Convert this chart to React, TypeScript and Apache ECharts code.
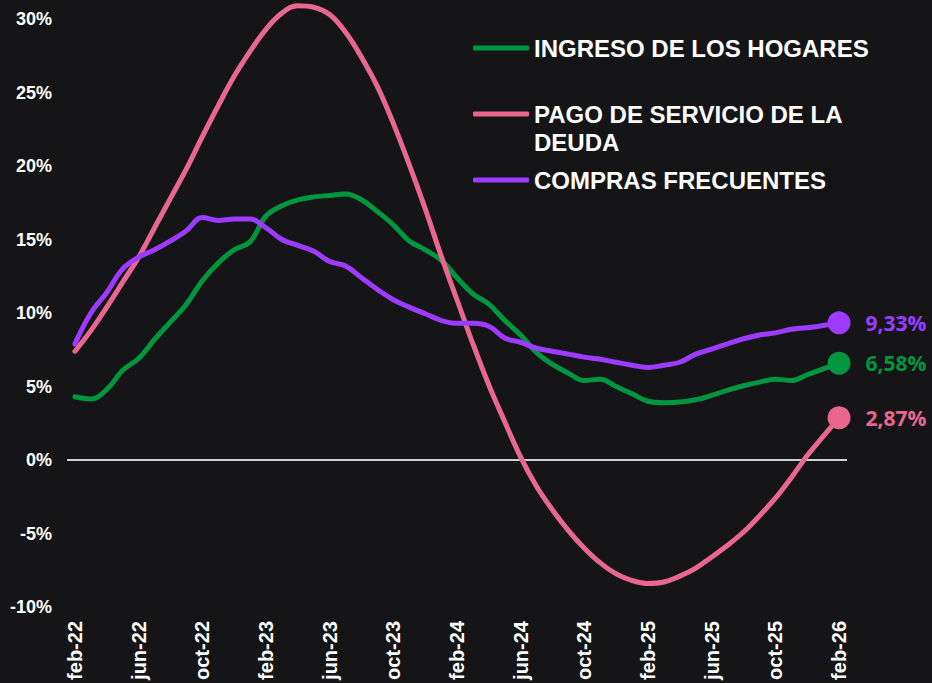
import React, { useEffect, useRef } from "react";
import * as echarts from "echarts";

const MONTHS = ["ene", "feb", "mar", "abr", "may", "jun", "jul", "ago", "sep", "oct", "nov", "dic"];
const categories: string[] = [];
for (let y = 22; y <= 26; y++) {
  for (let m = 0; m < 12; m++) {
    if (y === 22 && m < 1) continue;
    if (y === 26 && m > 1) continue;
    categories.push(`${MONTHS[m]}-${y}`);
  }
}

const seriesNames = ["INGRESO DE LOS HOGARES", "PAGO DE SERVICIO DE LA DEUDA", "COMPRAS FRECUENTES"];
const seriesColors = ["#00963f", "#e9668f", "#9d3bff"];

const ingresoHogares = [
  4.3, 4.15, 4.8, 6.1, 6.9, 8.2, 9.4, 10.6, 12.2, 13.4, 14.3, 14.85, 16.6, 17.3, 17.7, 17.9,
  18.0, 18.1, 17.7, 16.9, 16.0, 14.9, 14.3, 13.6, 12.4, 11.3, 10.6, 9.5, 8.5, 7.3, 6.5, 5.9,
  5.4, 5.5, 5.0, 4.5, 4.0, 3.9, 3.95, 4.1, 4.4, 4.75, 5.05, 5.3, 5.5, 5.4, 5.8, 6.2, 6.58,
];
const pagoDeuda = [
  7.4, 8.8, 10.4, 12.1, 13.8, 15.8, 17.8, 19.8, 22.0, 24.1, 26.1, 27.8, 29.3, 30.4, 30.9, 30.8,
  30.3, 29.1, 27.4, 25.4, 22.9, 20.1, 17.1, 13.9, 10.9, 7.9, 5.1, 2.6, 0.2, -1.8, -3.4, -4.8,
  -6.0, -7.0, -7.75, -8.2, -8.4, -8.3, -7.9, -7.35, -6.6, -5.8, -4.9, -3.8, -2.6, -1.2, 0.3, 1.6, 2.87,
];
const comprasFrecuentes = [
  7.9, 10.0, 11.4, 13.0, 13.8, 14.3, 14.9, 15.6, 16.5, 16.3, 16.4, 16.4, 15.8, 15.0, 14.6, 14.2,
  13.5, 13.2, 12.4, 11.6, 10.9, 10.4, 9.95, 9.5, 9.3, 9.3, 9.1, 8.3, 8.0, 7.6, 7.4, 7.2,
  7.0, 6.85, 6.65, 6.45, 6.3, 6.45, 6.65, 7.2, 7.55, 7.9, 8.25, 8.5, 8.65, 8.9, 9.0, 9.15, 9.33,
];
const seriesData = [ingresoHogares, pagoDeuda, comprasFrecuentes];

const FONT = "'Liberation Sans', Arial, sans-serif";

export default function App() {
  const ref = useRef<HTMLDivElement>(null);
  useEffect(() => {
    document.body.style.margin = "0";
    document.body.style.background = "#151517";
    if (!ref.current) return;
    const chart = echarts.init(ref.current, undefined, { renderer: "svg" });
    const last = categories.length - 1;
    const series: any[] = seriesNames.map((name, k) => ({
      name,
      type: "line",
      data: seriesData[k],
      smooth: 0.4,
      clip: false,
      showSymbol: false,
      symbol: "none",
      z: 3 + k,
      lineStyle: { width: 5, color: seriesColors[k], cap: "round", join: "round" },
      itemStyle: { color: seriesColors[k] },
      markPoint: {
        symbol: "circle",
        symbolSize: 23,
        silent: true,
        itemStyle: { color: seriesColors[k] },
        label: {
          show: true,
          position: "right",
          distance: 15,
          color: seriesColors[k],
          fontFamily: "'Open Sans', 'Noto Sans', sans-serif",
          fontWeight: "bold",
          fontSize: 21,
          formatter: () => seriesData[k][last].toFixed(2).replace(".", ",") + "%",
        },
        data: [{ coord: [categories[last], seriesData[k][last]] }],
      },
    }));
    series[0].markLine = {
      silent: true,
      symbol: "none",
      z: 1,
      label: { show: false },
      lineStyle: { color: "#cfcfcf", width: 2, type: "solid" },
      data: [{ yAxis: 0 }],
    };
    chart.setOption({
      animation: false,
      backgroundColor: "#151517",
      grid: { left: 67, right: 85, top: 19, bottom: 76 },
      legend: {
        orient: "vertical",
        left: 473,
        top: 34,
        padding: 0,
        itemGap: 10,
        itemWidth: 56,
        itemHeight: 5,
        icon: "roundRect",
        data: seriesNames,
        formatter: (name: string) =>
          name === "PAGO DE SERVICIO DE LA DEUDA" ? "\nPAGO DE SERVICIO DE LA\nDEUDA" : name,
        textStyle: {
          color: "#ffffff",
          fontFamily: FONT,
          fontWeight: "bold",
          fontSize: 24,
          lineHeight: 28,
        },
        selectedMode: false,
      },
      xAxis: {
        type: "category",
        data: categories,
        boundaryGap: true,
        axisLine: { show: false },
        axisTick: { show: false },
        splitLine: { show: false },
        axisLabel: {
          interval: 3,
          rotate: 90,
          margin: 14,
          color: "#ffffff",
          fontFamily: FONT,
          fontWeight: "bold",
          fontSize: 20,
        },
      },
      yAxis: {
        type: "value",
        min: -10,
        max: 30,
        interval: 5,
        axisLine: { show: false },
        axisTick: { show: false },
        splitLine: { show: false },
        axisLabel: {
          formatter: "{value}%",
          margin: 15,
          color: "#ffffff",
          fontFamily: FONT,
          fontWeight: "bold",
          fontSize: 18,
        },
      },
      series,
    });
    return () => chart.dispose();
  }, []);
  return <div ref={ref} style={{ width: 932, height: 683, background: "#151517" }} />;
}
